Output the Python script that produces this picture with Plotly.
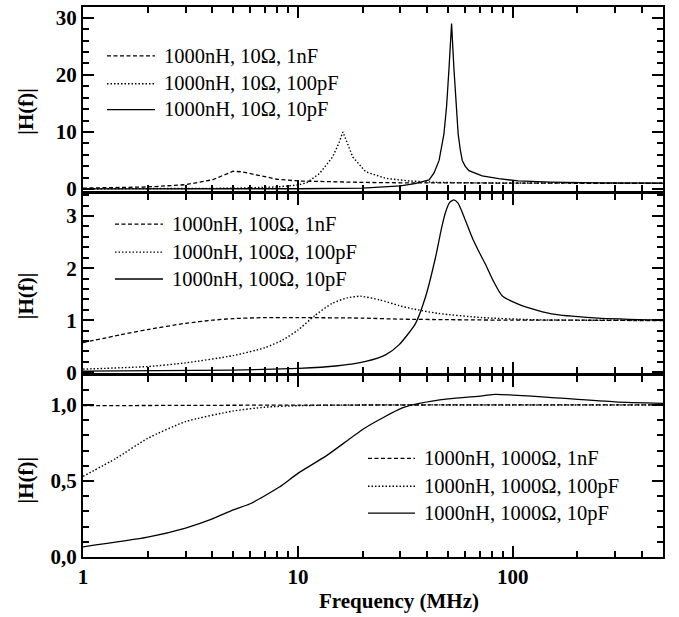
import math
import plotly.graph_objects as go

# ---- |H(f)| readings, L = 1000 nH, frequencies in MHz ----
# R = 10 ohm
f_r10_c1n = [1, 2, 3, 4, 4.5, 5, 5.5, 6, 7, 8, 10, 15, 20, 30, 50, 100, 200, 500]
h_r10_c1n = [0.15, 0.35, 0.75, 1.6, 2.4, 3.1, 3.0, 2.7, 2.1, 1.7, 1.4, 1.2, 1.15, 1.08, 1.03, 1.01, 1.0, 1.0]

f_r10_c100p = [1, 3, 5, 8, 10, 11, 12.6, 14.5, 15.5, 16.2, 17, 18, 20.7, 25.7, 33, 45, 70, 100, 200, 500]
h_r10_c100p = [0.02, 0.05, 0.12, 0.35, 0.7, 1.1, 2.7, 5.6, 8.0, 10.0, 8.0, 5.6, 3.0, 1.85, 1.4, 1.15, 1.06, 1.03, 1.01, 1.0]

f_r10_c10p = [1, 5, 10, 20, 30, 35, 40.8, 43, 45.4, 47.8, 49.2, 50.5, 51.9, 53.2, 54.4, 55.7, 57, 58.2, 60, 62.5, 72, 86, 106, 150, 250, 500]
h_r10_c10p = [0.0, 0.01, 0.04, 0.16, 0.55, 0.95, 1.6, 2.8, 5.0, 9.6, 14.5, 21.2, 29.0, 21.2, 14.5, 9.6, 6.8, 5.0, 4.0, 3.2, 2.3, 1.8, 1.4, 1.2, 1.07, 1.02]

# R = 100 ohm
f_r100_c1n = [1, 1.5, 2, 3, 4, 5, 7, 10, 20, 30, 50, 100, 200, 500]
h_r100_c1n = [0.57, 0.72, 0.82, 0.94, 1.0, 1.03, 1.05, 1.05, 1.04, 1.02, 1.01, 1.0, 1.0, 0.99]

f_r100_c100p = [1, 2, 3, 5, 7, 8.5, 10, 12, 14.4, 17, 19.6, 24, 29.6, 34, 45, 72, 122, 200, 500]
h_r100_c100p = [0.06, 0.11, 0.18, 0.32, 0.47, 0.62, 0.81, 1.09, 1.32, 1.43, 1.46, 1.39, 1.28, 1.22, 1.13, 1.05, 1.01, 1.0, 1.0]

f_r100_c10p = [1, 5, 10.1, 15, 20.7, 25.7, 29.6, 35.3, 39.2, 43.6, 46.5, 48.6, 50.8, 53.2, 55.6, 58.2, 61.5, 65, 69.5, 74.7, 81, 89.2, 106, 130, 158, 249, 500]
h_r100_c10p = [0.02, 0.04, 0.075, 0.12, 0.21, 0.34, 0.53, 0.94, 1.44, 2.19, 2.75, 3.07, 3.26, 3.31, 3.25, 3.07, 2.82, 2.57, 2.32, 2.07, 1.76, 1.47, 1.31, 1.19, 1.11, 1.04, 1.0]

# R = 1000 ohm
f_r1000_c1n = [1, 3, 10, 100, 500]
h_r1000_c1n = [0.995, 0.997, 0.999, 1.0, 1.0]

f_r1000_c100p = [1, 1.43, 2, 3, 5, 7, 10, 20, 50, 100, 500]
h_r1000_c100p = [0.53, 0.65, 0.78, 0.89, 0.96, 0.985, 0.995, 1.0, 1.0, 1.0, 1.0]

f_r1000_c10p = [1, 2, 3, 4, 5, 6, 8.2, 10, 13.7, 20.6, 30.6, 36.7, 50, 72, 83, 100, 147, 300, 500]
h_r1000_c10p = [0.067, 0.13, 0.19, 0.25, 0.31, 0.35, 0.46, 0.55, 0.67, 0.85, 0.98, 1.01, 1.04, 1.06, 1.07, 1.065, 1.05, 1.02, 1.01]

labels_r10 = ["1000nH, 10Ω, 1nF", "1000nH, 10Ω, 100pF", "1000nH, 10Ω, 10pF"]
labels_r100 = ["1000nH, 100Ω, 1nF", "1000nH, 100Ω, 100pF", "1000nH, 100Ω, 10pF"]
labels_r1000 = ["1000nH, 1000Ω, 1nF", "1000nH, 1000Ω, 100pF", "1000nH, 1000Ω, 10pF"]

# decimal-comma tick labels of the bottom panel
comma_labels = {"0.0": "0,0", "0.5": "0,5", "1.0": "1,0"}

f_max = 500

SERIF = "Liberation Serif, Times New Roman, serif"
INK = "black"
DASH = "4px,2.5px"
DOT = "1.5px,2px"
styles = [dict(dash=DASH, width=1.3), dict(dash=DOT, width=1.4), dict(dash="solid", width=1.3)]

# plot area: 580 x 552 px, left edge at 83 px, bottom edge at 557 px
PX_L, PX_W, PX_B, PX_H = 83, 580, 557, 552


def px_x(px):
    return (px - PX_L) / PX_W


def px_y(py):
    return (PX_B - py) / PX_H


fig = go.Figure()

panels = [
    ("x", "y", [(f_r10_c1n, h_r10_c1n), (f_r10_c100p, h_r10_c100p), (f_r10_c10p, h_r10_c10p)], labels_r10, "linear"),
    ("x2", "y2", [(f_r100_c1n, h_r100_c1n), (f_r100_c100p, h_r100_c100p), (f_r100_c10p, h_r100_c10p)], labels_r100, "spline"),
    ("x3", "y3", [(f_r1000_c1n, h_r1000_c1n), (f_r1000_c100p, h_r1000_c100p), (f_r1000_c10p, h_r1000_c10p)], labels_r1000, "spline"),
]
for xa, ya, series, names, shape in panels:
    for (f, h), name, st in zip(series, names, styles):
        fig.add_trace(go.Scatter(
            x=f, y=h, name=name, mode="lines", xaxis=xa, yaxis=ya, showlegend=False,
            line=dict(color=INK, shape=shape, smoothing=0.6, **st),
        ))

# key boxes: (sample start px, sample end px, text start px, row centres px)
keys = [
    (labels_r10, 107, 155, 162, [54, 82, 108]),
    (labels_r100, 115, 163, 170, [223, 251, 278]),
    (labels_r1000, 368, 415, 422, [458, 486, 513]),
]
for names, xs0, xs1, xt, rows in keys:
    for name, st, row in zip(names, styles, rows):
        fig.add_shape(type="line", xref="paper", yref="paper",
                      x0=px_x(xs0), x1=px_x(xs1), y0=px_y(row), y1=px_y(row),
                      line=dict(color=INK, width=st["width"], dash=st["dash"]))
        fig.add_annotation(text=name, xref="paper", yref="paper", x=px_x(xt), y=px_y(row),
                           xanchor="left", yanchor="middle", showarrow=False,
                           font=dict(family=SERIF, size=20.5, color=INK))

# panel borders, with a hairline gap so neighbouring frames stay separate
d_low = 183 / PX_H
d_mid = 366 / PX_H
gap = 0.0025

tickfont = dict(family=SERIF, size=21, color=INK, weight="bold")
frame = dict(showline=True, linecolor=INK, linewidth=2, mirror="allticks",
             ticks="inside", ticklen=11, tickwidth=2, tickcolor=INK,
             tickfont=tickfont, showgrid=False)


def x_axis(anchor, labels):
    return dict(
        frame, type="log", range=[0, math.log10(f_max)], anchor=anchor, domain=[0, 1],
        dtick=1, showticklabels=labels,
        minor=dict(ticks="inside", ticklen=6, tickcolor=INK, dtick="D1", showgrid=False),
    )


def y_axis(anchor, domain, rng, dtick, minor_dtick, **extra):
    return dict(
        frame, anchor=anchor, domain=domain, range=rng, dtick=dtick, zeroline=False,
        minor=dict(ticks="inside", ticklen=6, tickcolor=INK, dtick=minor_dtick, showgrid=False),
        **extra,
    )


fig.update_layout(
    width=679, height=617,
    margin=dict(l=83, r=16, t=5, b=60),
    paper_bgcolor="white", plot_bgcolor="white",
    showlegend=False,
    xaxis=x_axis("y", False),
    xaxis2=x_axis("y2", False),
    xaxis3=x_axis("y3", True),
    yaxis=y_axis("x", [d_mid + gap, 1], [-0.35, 31.9], 10, 2),
    yaxis2=y_axis("x2", [d_low + gap, d_mid - gap], [-0.02, 3.43], 1, 0.2),
    yaxis3=y_axis("x3", [0, d_low - gap], [0, 1.19], 0.5, 0.1, tickformat=".1f", labelalias=comma_labels),
)

title_font = dict(family=SERIF, size=21, color=INK, weight="bold")
for yc in [0.81, 0.4746, 0.1395]:
    fig.add_annotation(text="|H(f)|", xref="paper", yref="paper", x=-0.098, y=yc,
                       showarrow=False, textangle=-90, font=title_font,
                       xanchor="center", yanchor="middle")
fig.add_annotation(text="Frequency (MHz)", xref="paper", yref="paper", x=0.545, y=-0.08,
                   showarrow=False, font=title_font, xanchor="center", yanchor="middle")

fig.write_html("out.html")
